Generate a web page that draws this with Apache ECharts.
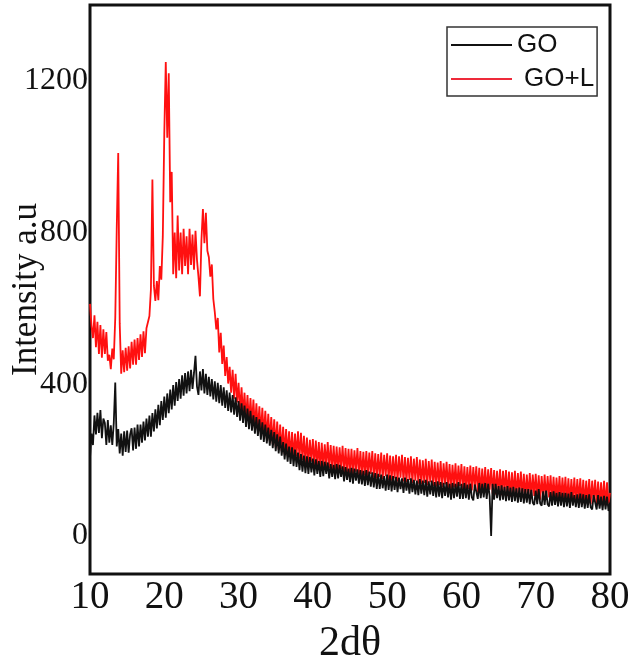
<!DOCTYPE html>
<html><head><meta charset="utf-8">
<script src="https://cdn.jsdelivr.net/npm/echarts@6/dist/echarts.min.js"></script>
<style>html,body{margin:0;padding:0;background:#fff}#c{width:636px;height:664px}</style>
</head><body><div id="c"></div>
<script>
// Sampling of the 2θ axis (degrees): first angle and step between readings
const X_START = 10;
const X_STEP = 0.2;
const xTicks = [10, 20, 30, 40, 50, 60, 70, 80];
const yTickLabels = [0, 400, 800, 1200];
const seriesNames = ['GO', 'GO+L'];

// GO intensity, one reading every 0.2° from 10 to 80
const goY = [
205,270,240,318,268, 325,272,332,258,310, 298,240,306,246,292, 240,298,405,236,282,
218,270,212,276,222, 278,220,268,284,226, 286,230,294,236,294, 246,302,252,310,262,
318,262,324,276,334, 284,346,292,356,306, 368,312,376,324,386, 334,398,344,406,356,
414,362,424,370,430, 376,434,382,438,388, 430,475,394,372,434, 384,440,376,428,372,
420,368,414,360,408, 354,404,350,398,344, 392,338,384,330,378, 326,372,320,366,314,
356,304,350,298,344, 288,336,282,330,278, 318,270,314,264,308, 254,300,248,294,244,
286,238,280,232,274, 224,268,218,262,212, 248,202,244,196,236, 190,234,184,228,182,
220,174,216,170,212, 166,210,164,208,168, 204,160,202,164,198, 156,198,158,196,164,
194,152,190,156,188, 150,190,152,188,156, 184,144,182,148,178, 142,180,138,178,146,
176,138,174,136,172, 132,174,134,170,130, 168,128,166,124,164, 124,162,126,158,120,
162,122,160,118,158, 122,156,116,154,124, 152,114,154,120,150, 112,152,116,148,110,
146,108,150,112,146, 108,148,104,144,110, 146,106,142,102,144, 104,142,100,140,106,
142,102,138,96,140, 100,138,104,142,98, 138,98,140,100,136, 96,138,102,94,136,
136,98,140,100,138, 102,140,98,138,104, 0,138,96,138,100, 132,94,134,96,130,
92,132,94,128,90, 130,92,126,88,128, 90,126,86,124,88, 124,84,122,88,82,
120,84,124,86,80, 118,82,120,84,78, 116,80,118,82,114, 78,116,80,114,76,
114,78,112,74,116, 80,108,76,110,74, 112,76,110,72,108, 74,110,76,70,108,
106,70,108,72,104, 68,106,70,104,66,
88];

// GO+L intensity, same sampling
const golY = [
612,555,522,582,498, 565,480,556,470,545, 480,538,462,478,440, 494,466,575,810,1010,
560,428,490,432,496, 436,500,442,512,452, 518,452,522,464,532, 472,540,482,548,550,
580,650,940,660,620, 672,622,712,676,790, 1060,1250,1050,1220,880, 960,690,800,680,845,
700,800,690,810,712, 790,690,810,715,795, 702,805,728,684,632, 780,862,772,852,752,
735,684,716,625,590, 545,575,484,536,454, 502,422,472,402,446, 378,438,362,428,352,
404,328,392,318,378, 306,372,298,364,294, 360,284,350,278,342, 270,338,264,330,256,
322,250,314,242,308, 234,302,228,294,224, 288,216,282,212,276, 208,274,204,270,210,
276,204,272,200,264, 194,260,190,254,196, 256,186,252,182,248, 180,246,176,242,184,
248,178,240,174,238, 172,236,170,234,176, 238,168,232,164,230, 166,230,162,226,170,
232,162,224,158,222, 160,224,156,220,164, 224,154,218,152,216, 156,220,150,214,158,
218,148,212,146,210, 152,214,144,210,154, 214,144,208,142,206, 148,210,140,204,146,
208,138,202,136,200, 140,204,134,198,142, 202,132,196,130,194, 134,198,128,192,136,
196,126,190,124,188, 128,192,122,186,132, 190,122,184,118,182, 124,186,120,182,126,
184,116,180,114,178, 118,182,114,176,122, 179,112,174,110,172, 114,176,108,172,116,
174,106,170,104,168, 108,172,104,166,112, 170,102,164,100,162, 104,166,100,162,106,
164,98,160,96,158, 100,162,96,158,102, 160,94,156,92,154, 96,158,92,154,98,
156,90,152,88,150, 92,154,88,150,94, 152,86,148,84,146, 88,150,84,146,90,
148,82,144,80,142, 84,146,80,142,86,
114];

const toPairs = ys => ys.map((y, i) => [+(X_START + i * X_STEP).toFixed(2), y]);

const chart = echarts.init(document.getElementById('c'), null, {renderer: 'canvas'});
chart.setOption({
  animation: false,
  backgroundColor: '#fff',
  grid: {left: 90, right: 26, top: 5, bottom: 90, containLabel: false, outerBoundsMode: 'none',
         show: true, borderColor: '#111', borderWidth: 3, backgroundColor: 'transparent'},
  legend: {
    data: seriesNames,
    orient: 'vertical',
    left: 447, top: 27,
    padding: [3, 3, 2, 4],
    itemGap: 4,
    itemWidth: 61, itemHeight: 2,
    itemTextGap: 1,
    icon: 'rect',
    borderColor: '#333', borderWidth: 1.5, borderRadius: 0,
    formatter: n => n === 'GO+L' ? '{b|' + n + '}' : '{a|' + n + '}',
    textStyle: {
      fontFamily: 'Liberation Sans, Arial, sans-serif', fontSize: 26, color: '#111', lineHeight: 30,
      rich: {a: {fontSize: 26, lineHeight: 30, fontFamily: 'Liberation Sans'}, b: {fontSize: 26, lineHeight: 30, padding: [0, 0, 0, 7], fontFamily: 'Liberation Sans'}}
    }
  },
  xAxis: {
    type: 'value', min: xTicks[0], max: xTicks[xTicks.length - 1], interval: 10,
    name: '2dθ', nameLocation: 'middle', nameGap: 49, nameMoveOverlap: false,
    nameTextStyle: {fontFamily: 'Liberation Serif, Times New Roman, serif', fontSize: 42, color: '#111'},
    axisLine: {show: false}, axisTick: {show: false}, splitLine: {show: false},
    axisLabel: {fontFamily: 'Liberation Serif, Times New Roman, serif', fontSize: 39, color: '#111', margin: 4}
  },
  yAxis: {
    type: 'value', min: -100, max: 1400, interval: 100,
    name: 'Intensity a.u', nameLocation: 'middle', nameGap: 46, nameMoveOverlap: false,
    nameTextStyle: {fontFamily: 'Liberation Serif, Times New Roman, serif', fontSize: 35, color: '#111'},
    axisLine: {show: false}, axisTick: {show: false}, splitLine: {show: false},
    axisLabel: {
      fontFamily: 'Liberation Serif, Times New Roman, serif', fontSize: 32, color: '#111', margin: 2,
      formatter: v => yTickLabels.includes(v) ? String(v) : ''
    }
  },
  series: [
    {name: 'GO+L', type: 'line', data: toPairs(golY), showSymbol: false, symbol: 'none', sampling: 'none',
     lineStyle: {color: '#ff1010', width: 1.8}, itemStyle: {color: '#ee2a3a'}, z: 2},
    {name: 'GO', type: 'line', data: toPairs(goY), showSymbol: false, symbol: 'none', sampling: 'none',
     lineStyle: {color: '#111', width: 1.8}, itemStyle: {color: '#111'}, z: 3}
  ]
});
</script></body></html>
